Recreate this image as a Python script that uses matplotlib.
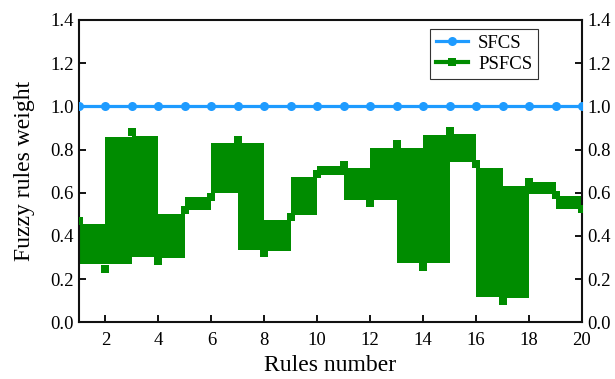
import matplotlib
matplotlib.use("Agg")
import matplotlib.pyplot as plt
from matplotlib.lines import Line2D
import numpy as np

plt.rcParams['font.family'] = ['Liberation Serif', 'DejaVu Serif']
plt.rcParams['mathtext.fontset'] = 'stix'

# Rule indices
rules = list(range(1, 21))

# SFCS weights: every rule fully active
sfcs = [1.0] * 20

# PSFCS weight per rule (square markers)
psfcs = [0.47, 0.249, 0.88, 0.285, 0.518, 0.582, 0.843, 0.319, 0.486, 0.685,
         0.728, 0.554, 0.825, 0.257, 0.886, 0.731, 0.098, 0.648, 0.588, 0.523]

# Weight band between consecutive rules (rule i to i+1)
band_low = [0.268, 0.268, 0.304, 0.299, 0.520, 0.600, 0.335, 0.332, 0.497, 0.684,
            0.568, 0.568, 0.276, 0.276, 0.744, 0.119, 0.114, 0.593, 0.526]
band_high = [0.455, 0.859, 0.864, 0.501, 0.579, 0.832, 0.832, 0.474, 0.673, 0.724,
             0.716, 0.807, 0.807, 0.869, 0.872, 0.713, 0.631, 0.648, 0.585]

y_ticks = [0.0, 0.2, 0.4, 0.6, 0.8, 1.0, 1.2, 1.4]
x_ticks = [2, 4, 6, 8, 10, 12, 14, 16, 18, 20]

blue = '#1E9BFF'
green = '#008C00'

fig = plt.figure(figsize=(6.15, 3.79), dpi=100)
ax = fig.add_axes([0.1285, 0.1496, 0.8178, 0.7977])

# PSFCS bands
band_x = rules[:-1]
heights = np.array(band_high) - np.array(band_low)
ax.bar(band_x, heights, bottom=band_low, width=1.0, align='edge',
       color=green, edgecolor='none', linewidth=0, zorder=2)
ax.plot(rules, psfcs, linestyle='none', marker='s', markersize=6.3,
        color=green, markeredgewidth=0, zorder=3)

# SFCS line
ax.plot(rules, sfcs, color=blue, linewidth=2.3, marker='o', markersize=6.5,
        markeredgewidth=0, zorder=4)

ax.set_xlim(1, 20)
ax.set_ylim(0, 1.4)
ax.set_xticks(x_ticks)
ax.set_yticks(y_ticks)
ax.set_yticklabels([f'{v:.1f}' for v in y_ticks])

ax.tick_params(axis='both', which='major', direction='in', length=5, width=1.3,
               labelsize=13.5, colors='black')
ax.tick_params(axis='y', left=True, right=True, labelleft=True, labelright=True, pad=4)
ax.tick_params(axis='x', top=False, bottom=True, pad=7)
ax.minorticks_off()

for sp in ax.spines.values():
    sp.set_linewidth(1.5)
    sp.set_color('#111111')

ax.set_xlabel('Rules number', fontsize=17, labelpad=4)
ax.set_ylabel('Fuzzy rules weight', fontsize=17, labelpad=11)

handles = [
    Line2D([0], [0], color=blue, linewidth=2.3, marker='o', markersize=6.5,
           markeredgewidth=0),
    Line2D([0], [0], color=green, linewidth=3.0, marker='s', markersize=6.3,
           markeredgewidth=0),
]
leg = ax.legend(handles, ['SFCS', 'PSFCS'], loc='upper right',
                bbox_to_anchor=(0.9125, 0.970), borderaxespad=0,
                fontsize=13.5, frameon=True,
                fancybox=False, edgecolor='#333333', framealpha=1,
                handlelength=1.7, handletextpad=0.55, borderpad=0.3,
                labelspacing=0.22)
leg.get_frame().set_linewidth(0.8)

fig.savefig('out.png', dpi=100)
